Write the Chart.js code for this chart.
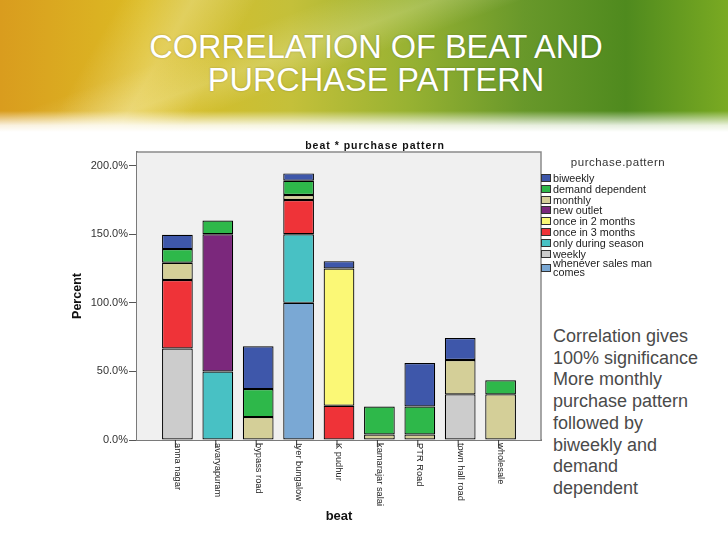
<!DOCTYPE html>
<html>
<head>
<meta charset="utf-8">
<script src="https://cdn.jsdelivr.net/npm/chart.js@4.4.0/dist/chart.umd.min.js"></script>
<style>
    body { margin: 0; width: 728px; height: 546px; background: #fff; position: relative; overflow: hidden; font-family: "Liberation Sans", Arial, sans-serif; }
    .header {
        position: absolute; left: 0; top: 0; width: 728px; height: 132px;
        background:
            linear-gradient(to bottom, rgba(255,255,255,0) 84%, rgba(255,255,255,0.85) 95%, #fff 100%),
            linear-gradient(160deg, rgba(255,255,255,0) 30%, rgba(255,255,220,0.22) 40%, rgba(255,255,255,0) 48%),
            linear-gradient(120deg, rgba(255,255,255,0) 15%, rgba(255,255,230,0.28) 24%, rgba(255,255,255,0) 32%),
            linear-gradient(90deg, #d99c1e 0%, #dcbc24 20%, #c4c03a 40%, #98b232 56%, #68982a 72%, #4f8a1e 86%, #7aaa22 100%);
    }
    .title {
        position: absolute; left: 0; top: 31px; width: 752px; text-align: center;
        color: #fff; font-size: 32.5px; line-height: 33px; text-shadow: 0 0 2px rgba(0,0,0,0.25);
    }
    #chartBox { position: absolute; left: 60px; top: 130px; }
    .legend { position: absolute; left: 541px; top: 156px; width: 185px; font-size: 10.8px; color: #222; }
    .legend .lt { width: 154px; text-align: center; font-size: 11.5px; color: #333; letter-spacing: 0.5px; margin-bottom: 5px; }
    .legend .it { position: relative; padding-left: 12px; line-height: 10.8px; height: 10.8px; }
    .legend .it.two { height: 19px; line-height: 9px; }
    .legend .sw { position: absolute; left: 0; top: 1px; width: 10px; height: 8px; border: 1px solid #333; box-sizing: border-box; }
    .legend .it.two .sw { top: 5px; }
    .note { position: absolute; left: 553px; top: 326px; font-size: 18px; line-height: 21.7px; color: #4a4a4a; }
</style>
</head>
<body>
<div class="header"></div>
<div class="title">CORRELATION OF BEAT AND<br>PURCHASE PATTERN</div>
<div id="chartBox"><canvas id="myChart" width="485" height="400"></canvas></div>
<div class="legend" id="legend"></div>
<div class="note">Correlation gives<br>100% significance<br>More monthly<br>purchase pattern<br>followed by<br>biweekly and<br>demand<br>dependent</div>

<script>
// Категории (beat)
const beats = ['anna nagar', 'avaryapuram', 'bypass road', 'Iyer bungalow', 'K pudhur',
    'kamarajar salai', 'PTR Road', 'town hall road', 'wholesale'];

// Значения серий, снизу вверх
const whenever = [null, null, null, 100, null, null, null, null, null];
const weekly = [66.7, null, null, null, null, null, null, 33.3, null];
const onlySeason = [null, 50, null, 50, null, null, null, null, null];
const once3 = [50, null, null, 25, 25, null, null, null, null];
const once2 = [null, null, null, null, 100, null, null, null, null];
const newOutlet = [null, 100, null, null, null, null, null, null, null];
const monthly = [12.5, null, 16.7, 3.6, null, 4, 4, 25, 33.3];
const demand = [10, 10, 20.4, 10.4, null, 20.4, 20.4, null, 10.3];
const biweekly = [10.4, null, 31.3, 5.4, 5.4, null, 31.7, 16, null];

const yTicks = [0, 50, 100, 150, 200];

const series = [
    { label: 'whenever sales man comes', data: whenever, color: '#7aa8d4' },
    { label: 'weekly', data: weekly, color: '#cccccc' },
    { label: 'only during season', data: onlySeason, color: '#48c1c4' },
    { label: 'once in 3 months', data: once3, color: '#ef3338' },
    { label: 'once in 2 months', data: once2, color: '#fbf876' },
    { label: 'new outlet', data: newOutlet, color: '#7b287c' },
    { label: 'monthly', data: monthly, color: '#d4cf98' },
    { label: 'demand dependent', data: demand, color: '#2eb84a' },
    { label: 'biweekly', data: biweekly, color: '#3e57aa' },
];

// Легенда справа (в обратном порядке, как в SPSS)
function renderLegend() {
    const box = document.getElementById('legend');
    let html = '<div class="lt">purchase.pattern</div>';
    series.slice().reverse().forEach((s) => {
        const two = s.label === 'whenever sales man comes';
        const text = two ? 'whenever sales man<br>comes' : s.label;
        html += `<div class="it${two ? ' two' : ''}"><span class="sw" style="background:${s.color}"></span>${text}</div>`;
    });
    box.innerHTML = html;
}

// Фон, рамка, подписи категорий и заголовок
const frame = {
    id: 'frame',
    beforeDatasetsDraw(chart) {
        const { ctx, chartArea: a } = chart;
        ctx.save();
        ctx.fillStyle = '#f0f0f0';
        ctx.fillRect(a.left, a.top, a.right - a.left, a.bottom - a.top);
        ctx.restore();
    },
    afterDraw(chart) {
        const { ctx, chartArea: a } = chart;
        const x = chart.scales.x;
        ctx.save();
        ctx.strokeStyle = '#8a8a8a';
        ctx.lineWidth = 1.5;
        ctx.beginPath();
        ctx.moveTo(a.left, a.top);
        ctx.lineTo(a.right, a.top);
        ctx.lineTo(a.right, a.bottom);
        ctx.stroke();

        ctx.fillStyle = '#222';
        ctx.font = '9.3px "Liberation Sans", Arial, sans-serif';
        ctx.textAlign = 'left';
        ctx.textBaseline = 'middle';
        beats.forEach((b, i) => {
            const px = x.getPixelForValue(i);
            ctx.save();
            ctx.translate(px, a.bottom + 3);
            ctx.rotate(Math.PI / 2);
            ctx.fillText(b, 0, 0);
            ctx.restore();
            ctx.strokeStyle = '#333';
            ctx.lineWidth = 1;
            ctx.beginPath();
            ctx.moveTo(px - 2, a.bottom);
            ctx.lineTo(px - 2, a.bottom + 7);
            ctx.stroke();
        });

        ctx.fillStyle = '#111';
        ctx.font = 'bold 10.5px "Liberation Sans", Arial, sans-serif';
        if ('letterSpacing' in ctx) ctx.letterSpacing = '1px';
        ctx.textAlign = 'center';
        ctx.fillText('beat * purchase pattern', 315, 16);
        ctx.restore();
    }
};

function renderChart() {
    const ctx = document.getElementById('myChart').getContext('2d');
    new Chart(ctx, {
        type: 'bar',
        data: {
            labels: beats.map((b, i) => i),
            datasets: series.map((s) => ({
                label: s.label,
                data: s.data,
                backgroundColor: s.color,
                borderColor: '#000',
                borderWidth: 1.2,
                borderSkipped: false,
                categoryPercentage: 1,
                barPercentage: 0.76,
            })),
        },
        options: {
            responsive: false,
            animation: false,
            layout: { padding: { top: 22, right: 4, left: 0, bottom: 0 } },
            plugins: {
                legend: { display: false },
                title: { display: false },
                tooltip: { enabled: false },
            },
            scales: {
                x: {
                    type: 'linear',
                    offset: false,
                    stacked: true,
                    min: -1,
                    max: 9,
                    afterFit: (scale) => { scale.height = 90; },
                    ticks: { display: false },
                    grid: { display: false },
                    border: { display: true, color: '#7a7a7a', width: 2 },
                    title: {
                        display: true,
                        text: 'beat',
                        color: '#111',
                        font: { size: 13, weight: 'bold', family: '"Liberation Sans", Arial, sans-serif' },
                        padding: { bottom: 6 },
                    },
                },
                y: {
                    stacked: true,
                    min: 0,
                    max: 210,
                    afterFit: (scale) => { scale.width = 77; },
                    afterBuildTicks: (scale) => { scale.ticks = yTicks.map((v) => ({ value: v })); },
                    ticks: {
                        color: '#333',
                        padding: 1,
                        font: { size: 11, family: '"Liberation Sans", Arial, sans-serif' },
                        callback: (v) => `${v.toFixed(1)}%`,
                    },
                    grid: { drawOnChartArea: false, drawTicks: true, tickLength: 8, color: '#555' },
                    border: { display: true, color: '#7a7a7a', width: 2 },
                    title: {
                        display: true,
                        text: 'Percent',
                        color: '#111',
                        font: { size: 12.5, weight: 'bold', family: '"Liberation Sans", Arial, sans-serif' },
                        padding: { top: 10 },
                    },
                },
            },
        },
        plugins: [frame],
    });
}

document.addEventListener('DOMContentLoaded', () => {
    renderLegend();
    renderChart();
});
</script>
</body>
</html>
